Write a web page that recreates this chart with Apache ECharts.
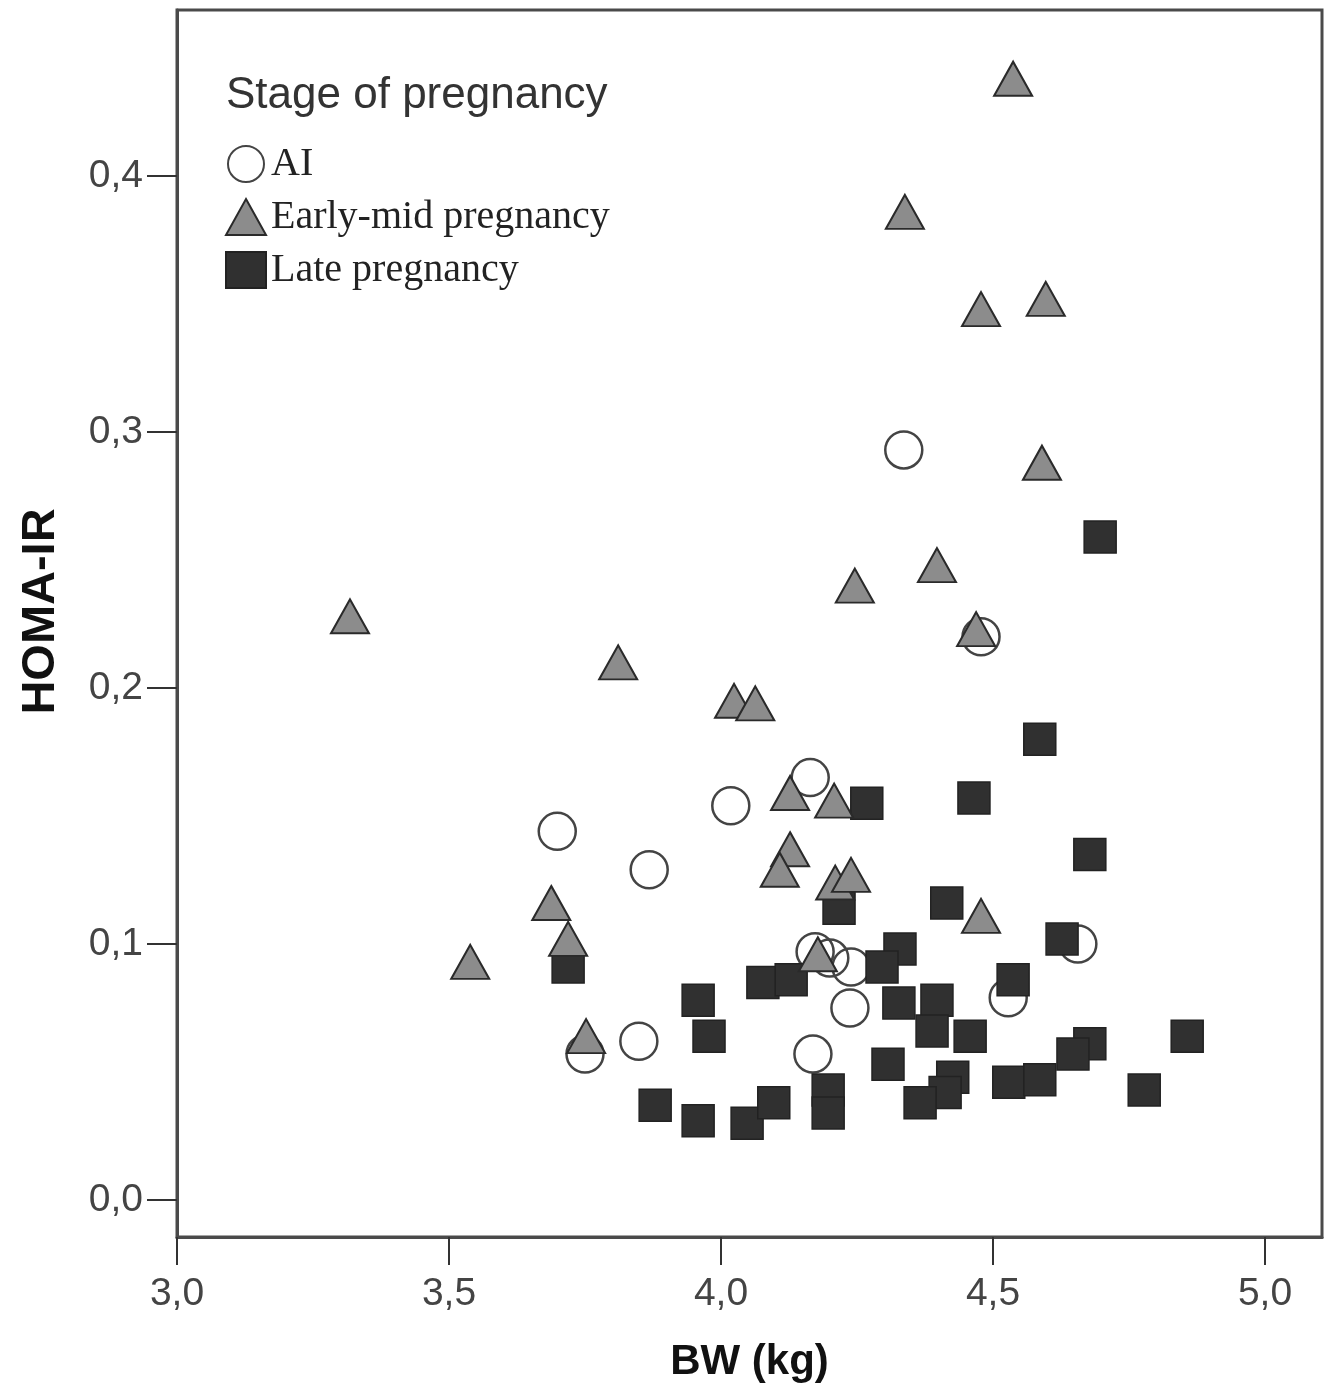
<!DOCTYPE html>
<html>
<head>
<meta charset="utf-8">
<script src="https://cdn.jsdelivr.net/npm/echarts@6/dist/echarts.min.js"></script>
<style>
html,body{margin:0;padding:0;background:#fff;}
#chart{width:1325px;height:1399px;}
</style>
</head>
<body>
<div id="chart"></div>
<script>
// ---- Data ----
const legendTitle = 'Stage of pregnancy';
const seriesNames = ['AI', 'Early-mid pregnancy', 'Late pregnancy'];

const aiBW   = [4.336, 4.478, 4.164, 4.018, 3.699, 3.868, 4.173, 4.200, 4.239, 4.237, 4.169, 3.849, 3.750, 4.656, 4.528];
const aiHOMA = [0.293, 0.220, 0.165, 0.154, 0.144, 0.129, 0.097, 0.0945, 0.091, 0.075, 0.057, 0.062, 0.057, 0.100, 0.079];

const earlyBW   = [4.537, 4.338, 4.478, 4.597, 4.590, 4.397, 4.246, 4.469, 3.318, 3.811, 4.024, 4.063, 4.127, 4.208, 4.127, 4.108, 4.210, 4.239, 4.478, 3.688, 3.719, 3.539, 3.752, 4.178];
const earlyHOMA = [0.438, 0.386, 0.348, 0.352, 0.288, 0.248, 0.240, 0.223, 0.228, 0.210, 0.195, 0.194, 0.159, 0.156, 0.137, 0.129, 0.124, 0.127, 0.111, 0.116, 0.102, 0.093, 0.064, 0.096];

const lateBW   = [4.697, 4.586, 4.465, 4.268, 4.678, 4.217, 4.415, 4.627, 4.329, 4.296, 4.537, 3.719, 4.077, 4.129, 3.958, 4.327, 4.397, 3.978, 4.388, 4.458, 4.307, 4.678, 4.647, 4.857, 4.426, 4.412, 4.366, 4.529, 4.586, 4.778, 3.879, 3.958, 4.048, 4.097, 4.197, 4.197];
const lateHOMA = [0.259, 0.180, 0.157, 0.155, 0.135, 0.114, 0.116, 0.102, 0.098, 0.091, 0.086, 0.091, 0.085, 0.086, 0.078, 0.077, 0.078, 0.064, 0.066, 0.064, 0.053, 0.061, 0.057, 0.064, 0.048, 0.042, 0.038, 0.046, 0.047, 0.043, 0.037, 0.031, 0.030, 0.038, 0.043, 0.034];

const xTicks = [3.0, 3.5, 4.0, 4.5, 5.0];
const yTicks = [0.0, 0.1, 0.2, 0.3, 0.4];
const xName = 'BW (kg)';
const yName = 'HOMA-IR';

function pairs(xs, ys) { return xs.map((x, i) => [x, ys[i]]); }
function comma(v, d) { return v.toFixed(d).replace('.', ','); }

const chart = echarts.init(document.getElementById('chart'), null, {renderer: 'canvas'});

const labelFont = {fontFamily: 'Liberation Sans, Arial, sans-serif', fontSize: 39, color: '#444'};

chart.setOption({
  animation: false,
  backgroundColor: '#fff',
  grid: {
    left: 177, right: 3, top: 10, bottom: 162,
    show: true, borderColor: '#4a4a4a', borderWidth: 3, backgroundColor: '#fff'
  },
  xAxis: {
    type: 'value',
    min: 3.0, max: 5.1048,
    name: xName, nameLocation: 'middle', nameGap: 104,
    nameTextStyle: {fontFamily: 'Liberation Sans, Arial, sans-serif', fontSize: 42, fontWeight: 'bold', color: '#111'},
    axisLine: {show: true, onZero: false, lineStyle: {color: '#4a4a4a', width: 3}},
    axisTick: {show: true, length: 28, lineStyle: {color: '#333', width: 2}, customValues: xTicks},
    axisLabel: Object.assign({margin: 38, customValues: xTicks, formatter: v => comma(v, 1)}, labelFont),
    splitLine: {show: false}
  },
  yAxis: {
    type: 'value',
    min: -0.01445, max: 0.46484,
    name: yName, nameLocation: 'middle', nameGap: 112,
    nameTextStyle: {fontFamily: 'Liberation Sans, Arial, sans-serif', fontSize: 47, fontWeight: 'bold', color: '#111', padding: [0, 0, 0, 24]},
    axisLine: {show: true, onZero: false, lineStyle: {color: '#4a4a4a', width: 3}},
    axisTick: {show: true, length: 30, lineStyle: {color: '#333', width: 2}, customValues: yTicks},
    axisLabel: Object.assign({margin: 34, padding: [9, 0, 0, 0], customValues: yTicks, formatter: v => comma(v, 1)}, labelFont),
    splitLine: {show: false}
  },
  legend: {
    orient: 'vertical',
    left: 220, top: 139,
    itemWidth: 40, itemHeight: 36, itemGap: 13,
    data: seriesNames,
    textStyle: {fontFamily: 'Liberation Serif, Times New Roman, serif', fontSize: 40, color: '#222'}
  },
  graphic: [{
    type: 'text', left: 226, top: 74,
    style: {text: legendTitle, fontFamily: 'Liberation Sans, Arial, sans-serif', fontSize: 44, fill: '#333'}
  }],
  series: [
    {
      name: seriesNames[0], type: 'scatter', z: 2,
      symbol: 'circle', symbolSize: 37,
      itemStyle: {color: 'rgba(255,255,255,0)', borderColor: '#444', borderWidth: 2.5, opacity: 1},
      data: pairs(aiBW, aiHOMA)
    },
    {
      name: seriesNames[2], type: 'scatter', z: 3,
      symbol: 'rect', symbolSize: 32,
      itemStyle: {color: '#303030', borderColor: '#222', borderWidth: 1.5, opacity: 1},
      data: pairs(lateBW, lateHOMA)
    },
    {
      name: seriesNames[1], type: 'scatter', z: 4,
      symbol: 'triangle', symbolSize: [38, 34],
      itemStyle: {color: '#8c8c8c', borderColor: '#2a2a2a', borderWidth: 2, opacity: 1},
      data: pairs(earlyBW, earlyHOMA)
    }
  ]
});
</script>
</body>
</html>
